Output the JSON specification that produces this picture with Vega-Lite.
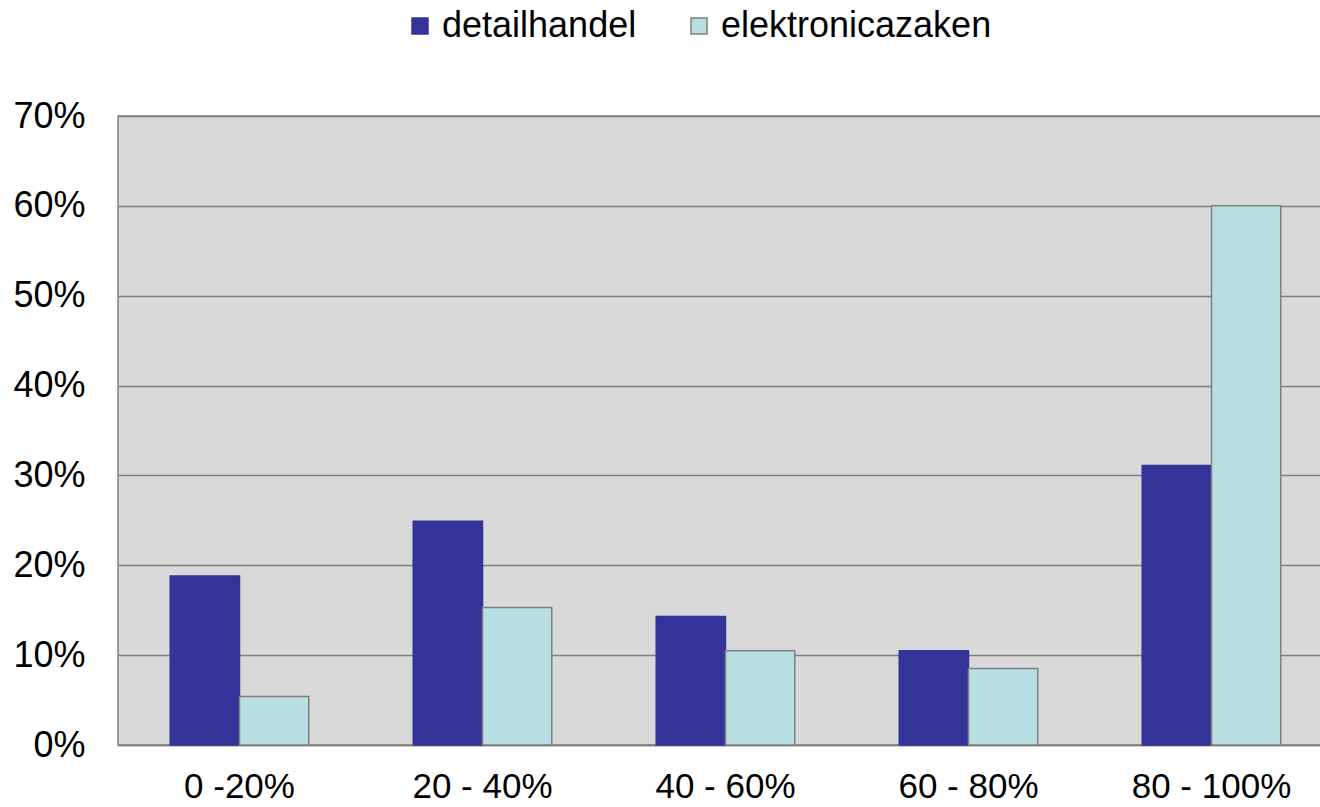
{
  "$schema": "https://vega.github.io/schema/vega-lite/v6.json",
  "width": 1215,
  "height": 629,
  "autosize": {"type": "none"},
  "padding": {"left": 118, "top": 116, "right": 0, "bottom": 62},
  "background": "white",
  "config": {
    "font": "Liberation Sans",
    "view": {"fill": "#d9d9d9", "stroke": "#808080", "strokeWidth": 1.5}
  },
  "data": {
    "values": [
      {"range": "0 -20%", "series": "detailhandel", "value": 0.188},
      {"range": "0 -20%", "series": "elektronicazaken", "value": 0.054},
      {"range": "20 - 40%", "series": "detailhandel", "value": 0.249},
      {"range": "20 - 40%", "series": "elektronicazaken", "value": 0.153},
      {"range": "40 - 60%", "series": "detailhandel", "value": 0.143},
      {"range": "40 - 60%", "series": "elektronicazaken", "value": 0.105},
      {"range": "60 - 80%", "series": "detailhandel", "value": 0.105},
      {"range": "60 - 80%", "series": "elektronicazaken", "value": 0.085},
      {"range": "80 - 100%", "series": "detailhandel", "value": 0.311},
      {"range": "80 - 100%", "series": "elektronicazaken", "value": 0.600}
    ]
  },
  "mark": {"type": "bar", "strokeWidth": 1.5},
  "encoding": {
    "x": {
      "field": "range",
      "type": "nominal",
      "sort": ["0 -20%", "20 - 40%", "40 - 60%", "60 - 80%", "80 - 100%"],
      "scale": {"paddingInner": 0.43, "paddingOuter": 0.215},
      "axis": {
        "title": null,
        "labelAngle": 0,
        "labelFontSize": 35,
        "labelColor": "black",
        "ticks": false,
        "labelPadding": 24,
        "domainColor": "#808080",
        "domainWidth": 1.5
      }
    },
    "xOffset": {
      "field": "series",
      "type": "nominal",
      "sort": ["detailhandel", "elektronicazaken"]
    },
    "y": {
      "field": "value",
      "type": "quantitative",
      "scale": {"domain": [0, 0.7]},
      "axis": {
        "format": ".0%",
        "values": [0, 0.1, 0.2, 0.3, 0.4, 0.5, 0.6, 0.7],
        "title": null,
        "labelFontSize": 36,
        "labelColor": "black",
        "ticks": false,
        "labelPadding": 33,
        "gridColor": "#808080",
        "gridWidth": 1.5,
        "domain": false
      }
    },
    "color": {
      "field": "series",
      "type": "nominal",
      "scale": {"domain": ["detailhandel", "elektronicazaken"], "range": ["#333399", "#b8e0e3"]},
      "legend": {
        "title": null,
        "orient": "none",
        "direction": "horizontal",
        "legendX": 284,
        "legendY": -108,
        "labelFontSize": 36,
        "labelLimit": 0,
        "labelColor": "black",
        "symbolType": "square",
        "symbolSize": 256,
        "symbolStrokeColor": "#808080",
        "symbolStrokeWidth": 1.5,
        "labelOffset": 4,
        "columnPadding": 44
      }
    },
    "stroke": {
      "field": "series",
      "type": "nominal",
      "scale": {"domain": ["detailhandel", "elektronicazaken"], "range": ["#333399", "#808080"]},
      "legend": null
    }
  }
}
